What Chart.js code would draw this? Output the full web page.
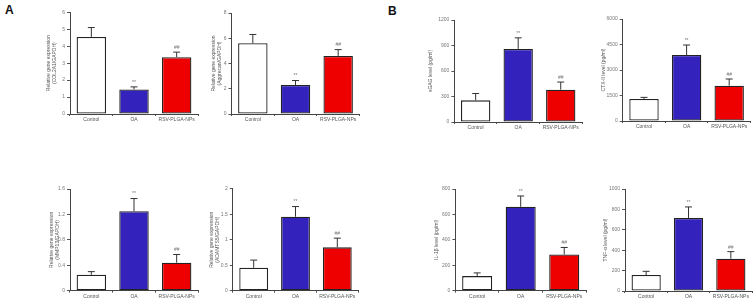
<!DOCTYPE html>
<html>
<head>
<meta charset="utf-8">
<script src="https://cdn.jsdelivr.net/npm/chart.js@4.4.0/dist/chart.umd.min.js"></script>
<style>
    body { margin: 0; background: #fff; width: 756px; height: 300px; position: relative; overflow: hidden; }
    canvas { position: absolute; }
    .panel { position: absolute; font: bold 12px "Liberation Sans", Arial, sans-serif; color: #111; }
</style>
</head>
<body>
<div class="panel" style="left:5px;top:3px">A</div>
<div class="panel" style="left:388px;top:4px">B</div>
<script>
    var groups = ['Control', 'OA', 'RSV-PLGA-NPs'];
    var marks = ['', '**', '##'];

    // panel A - gene expression
    var col2a1 = [4.55, 1.45, 3.35];
    var col2a1Err = [0.55, 0.15, 0.3];
    var aggrecan = [5.6, 2.3, 4.6];
    var aggrecanErr = [0.7, 0.35, 0.5];
    var mmp13 = [0.25, 1.25, 0.44];
    var mmp13Err = [0.05, 0.2, 0.13];
    var adamts5 = [0.45, 1.45, 0.85];
    var adamts5Err = [0.15, 0.2, 0.18];

    // panel B - ELISA
    var sgag = [255, 860, 380];
    var sgagErr = [80, 130, 90];
    var ctx2 = [1300, 3880, 2080];
    var ctx2Err = [90, 590, 390];
    var il1b = [115, 660, 285];
    var il1bErr = [25, 85, 55];
    var tnfa = [157, 716, 317];
    var tnfaErr = [36, 108, 69];

    // y tick ranges [max, step]
    var col2a1Ticks = [6, 1];
    var aggrecanTicks = [8, 2];
    var mmp13Ticks = [1.6, 0.4];
    var adamts5Ticks = [2, 0.5];
    var sgagTicks = [1200, 300];
    var ctx2Ticks = [6000, 1500];
    var il1bTicks = [800, 200];
    var tnfaTicks = [1000, 200];

    var colors = ['#ffffff', 'rgb(51, 34, 187)', 'rgb(238, 0, 0)'];

    var errorBars = {
        id: 'errorBars',
        afterDatasetsDraw: function (chart, args, opts) {
            var c = chart.ctx;
            var y = chart.scales.y;
            var ds = chart.data.datasets[0];
            c.save();
            c.strokeStyle = '#333';
            c.lineWidth = 1;
            c.fillStyle = '#777';
            c.font = '5px "Liberation Sans", Arial, sans-serif';
            c.textAlign = 'center';
            c.textBaseline = 'bottom';
            chart.getDatasetMeta(0).data.forEach(function (bar, i) {
                var top = y.getPixelForValue(ds.data[i] + opts.err[i]);
                c.beginPath();
                c.moveTo(bar.x, bar.y);
                c.lineTo(bar.x, top);
                c.moveTo(bar.x - 3.5, top);
                c.lineTo(bar.x + 3.5, top);
                c.stroke();
                if (marks[i]) c.fillText(marks[i], bar.x, top - 2);
            });
            c.restore();
        }
    };

    function makeChart(box, title, values, errs, ticks) {
        var padTop = 6, padRight = 4, xh = 6;
        var cv = document.createElement('canvas');
        var left = Math.round(box.left - box.yw);
        var top = Math.round(box.top - padTop);
        var w = Math.round(box.right + padRight) - left;
        var h = Math.round(box.bottom + xh + 8) - top;
        cv.width = w;
        cv.height = h;
        cv.style.left = left + 'px';
        cv.style.top = top + 'px';
        document.body.appendChild(cv);

        var tickFont = { family: '"Liberation Sans", Arial, sans-serif', size: 5 };

        new Chart(cv, {
            type: 'bar',
            data: {
                labels: groups,
                datasets: [{
                    data: values,
                    backgroundColor: colors,
                    borderColor: '#222',
                    borderWidth: 1.3,
                    borderSkipped: false,
                    categoryPercentage: 1,
                    barPercentage: 0.69
                }]
            },
            options: {
                responsive: false,
                animation: false,
                devicePixelRatio: 1,
                layout: { padding: { top: box.top - top, right: (left + w) - box.right, left: 0, bottom: 0 } },
                plugins: {
                    legend: { display: false },
                    tooltip: { enabled: false },
                    errorBars: { err: errs }
                },
                scales: {
                    x: {
                        grid: { display: true, drawOnChartArea: false, tickLength: 2, tickColor: '#555', offset: true },
                        border: { color: '#444', width: 1 },
                        ticks: { font: tickFont, color: '#555', padding: 1, maxRotation: 0, autoSkip: false },
                        afterFit: function (s) { s.height = (top + h) - box.bottom; }
                    },
                    y: {
                        min: 0,
                        max: ticks[0],
                        grid: { display: true, drawOnChartArea: false, tickLength: 3, tickColor: '#555' },
                        border: { color: '#444', width: 1 },
                        ticks: {
                            font: tickFont,
                            color: '#777',
                            padding: 2,
                            stepSize: ticks[1],
                            callback: function (v) { return String(Math.round(v * 100) / 100); }
                        },
                        title: {
                            display: true,
                            text: title,
                            color: '#555',
                            font: { family: '"Liberation Sans", Arial, sans-serif', size: 5, lineHeight: 1.1 },
                            padding: { top: 2, bottom: 0 }
                        },
                        afterFit: function (s) { s.width = box.left - left; }
                    }
                }
            },
            plugins: [errorBars]
        });
    }

    makeChart({ left: 70, top: 12.3, right: 198, bottom: 114, yw: 26 },
        ['Relative gene expression', '(COL2A1/GAPDH)'], col2a1, col2a1Err, col2a1Ticks);
    makeChart({ left: 231.5, top: 13, right: 359.5, bottom: 114, yw: 22.5 },
        ['Relative gene expression', '(Aggrecan/GAPDH)'], aggrecan, aggrecanErr, aggrecanTicks);
    makeChart({ left: 70, top: 189, right: 198, bottom: 290.7, yw: 23 },
        ['Relative gene expression', '(MMP13/GAPDH)'], mmp13, mmp13Err, mmp13Ticks);
    makeChart({ left: 232.8, top: 188.7, right: 358.2, bottom: 290.7, yw: 25.8 },
        ['Relative gene expression', '(ADAMTS5/GAPDH)'], adamts5, adamts5Err, adamts5Ticks);

    makeChart({ left: 454.4, top: 20, right: 582, bottom: 122, yw: 28 },
        'sGAG level (pg/ml)', sgag, sgagErr, sgagTicks);
    makeChart({ left: 622.7, top: 19, right: 750.5, bottom: 121, yw: 23.7 },
        'CTX-II level (pg/ml)', ctx2, ctx2Err, ctx2Ticks);
    makeChart({ left: 455.4, top: 189, right: 586, bottom: 290.7, yw: 23 },
        'IL-1β level (pg/ml)', il1b, il1bErr, il1bTicks);
    makeChart({ left: 625, top: 189, right: 752, bottom: 291, yw: 24 },
        'TNF-α level (pg/ml)', tnfa, tnfaErr, tnfaTicks);
</script>
</body>
</html>
